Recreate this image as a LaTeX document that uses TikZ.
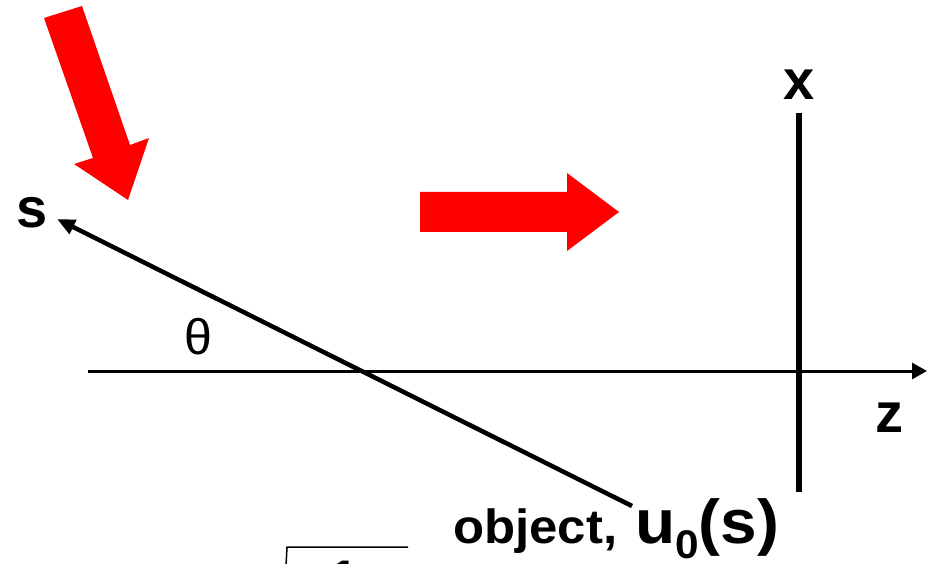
\documentclass[tikz,border=0pt]{standalone}
\usepackage{fontspec}
\usepackage{graphicx}
\setmainfont{Liberation Sans}
\usetikzlibrary{arrows.meta}
\begin{document}
\begin{tikzpicture}[x=1pt,y=-1pt,
  redarrow/.style={fill=red,draw=none},
  lbl/.style={font=\bfseries\fontsize{56}{56}\selectfont, inner sep=0pt},
  axisline/.style={line width=3pt, -{Triangle[length=15pt 0 0,width=16pt 0 0]}},
  screen/.style={line width=5.5pt},
  sline/.style={line width=4.5pt, -{Triangle[length=18pt 0 0,width=15pt 0 0]}},
  caption/.style={inner sep=0pt, anchor=base west, font=\bfseries}
 ]
\useasboundingbox (0,0) rectangle (927,564);
% red arrows
\fill[redarrow] (44,18) -- (82,6) -- (130,145) -- (149,138) -- (128,200) -- (74,164) -- (93,158) -- cycle;
\fill[redarrow] (420,192) -- (567,192) -- (567,173) -- (619,212) -- (567,251) -- (567,232) -- (420,232) -- cycle;
% coordinates
\coordinate (zStart) at (88,371);
\coordinate (zEnd) at (927,371);
\coordinate (xTop) at (799,113);
\coordinate (xBot) at (799,492);
\coordinate (sEnd) at (632,506);
\coordinate (sTip) at (57,219);
% axes
\draw[axisline] (zStart) -- (zEnd);
\draw[screen] (xBot) -- (xTop);
\draw[sline] (sEnd) -- (sTip);
% labels
\node[lbl] (slab) at (32,213) {s};
\node[lbl] (xlab) at (799,85) {x};
\node[lbl] (zlab) at (889,418) {z};
\node[inner sep=0pt, font=\fontsize{50}{50}\selectfont] (theta) at (198,337) {θ};
\node[caption] (obj) at (453,543)
  {\scalebox{1.06}[1]{\fontsize{48}{48}\selectfont object,}};
\node[caption] (u0s) at (635,543)
  {\scalebox{1.06}[1]{\fontsize{62}{62}\selectfont u\raisebox{-15pt}{\fontsize{40}{40}\selectfont 0}(s)}};
% partial formula at bottom
\draw[line width=1.5pt] (286,566) -- (287,547) -- (408,547);
\node[inner sep=0pt, anchor=north, font=\bfseries\fontsize{50}{50}\selectfont] (one) at (344,561) {1};
\end{tikzpicture}
\end{document}
